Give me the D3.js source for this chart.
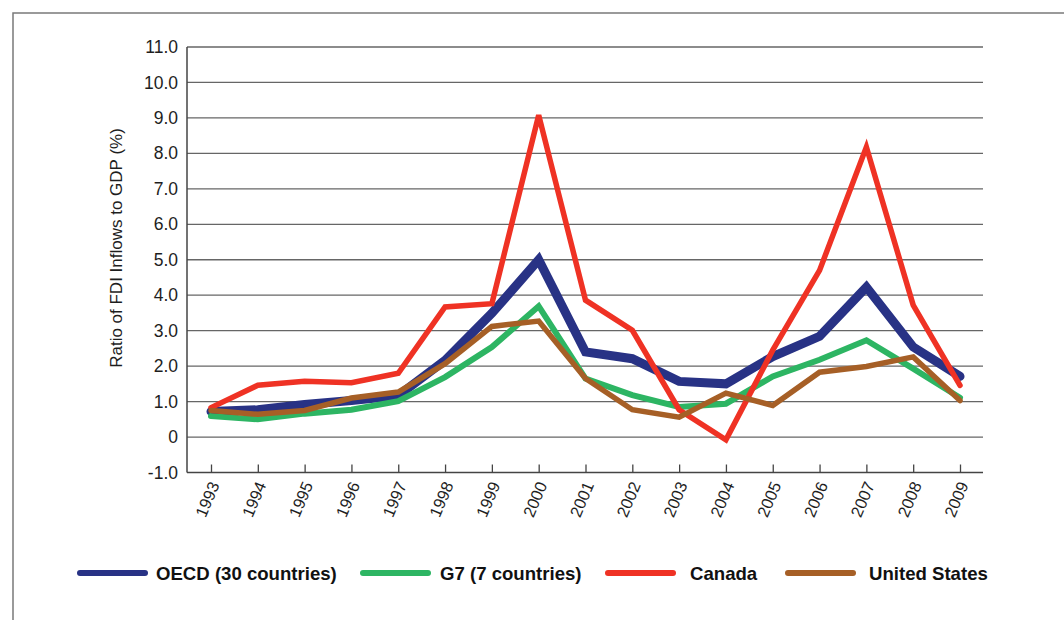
<!DOCTYPE html>
<html>
<head>
<meta charset="utf-8">
<script src="https://cdn.jsdelivr.net/npm/d3@7"></script>
<style>
  html, body { margin: 0; padding: 0; background: #fff; }
  svg { display: block; font-family: "Liberation Sans", Arial, Helvetica, sans-serif; }
</style>
</head>
<body>
<svg id="chart" width="1064" height="620"></svg>
<script>
const years = [1993,1994,1995,1996,1997,1998,1999,2000,2001,2002,2003,2004,2005,2006,2007,2008,2009];
const oecd   = [0.72,0.77,0.92,1.03,1.17,2.16,3.49,5.00,2.40,2.21,1.57,1.50,2.27,2.84,4.23,2.54,1.71];
const g7     = [0.59,0.50,0.66,0.77,1.01,1.69,2.54,3.69,1.65,1.18,0.85,0.94,1.71,2.18,2.73,1.93,1.11];
const canada = [0.83,1.46,1.57,1.53,1.80,3.67,3.76,9.08,3.86,3.01,0.77,-0.08,2.45,4.70,8.18,3.72,1.46];
const us     = [0.75,0.64,0.75,1.10,1.27,2.07,3.12,3.27,1.65,0.77,0.56,1.24,0.89,1.83,1.99,2.26,1.03];
const yTicks = [-1,0,1,2,3,4,5,6,7,8,9,10,11];
const yTickLabels = ["-1.0","0","1.0","2.0","3.0","4.0","5.0","6.0","7.0","8.0","9.0","10.0","11.0"];
const seriesNames = ["OECD (30 countries)","G7 (7 countries)","Canada","United States"];
const seriesColors = ["#283285","#2db563","#ef3224","#a65f26"];
const seriesWidths = [9,6,5.5,5.5];
const yTitle = "Ratio of FDI Inflows to GDP (%)";

const seriesData = [oecd, g7, canada, us];

const svg = d3.select("#chart");

// outer frame
svg.append("path")
  .attr("d", "M13,620 L13,13 L1064,13")
  .attr("fill","none").attr("stroke","#7a7a7a").attr("stroke-width",1.5);

const plotLeft = 187, plotRight = 983;
const x = d3.scaleLinear().domain([1993, 2009]).range([211, 960]);
const y = d3.scaleLinear().domain([-1, 11]).range([472.5, 47]);

// gridlines
svg.append("g").selectAll("line").data(yTicks.filter(d => d > -1)).join("line")
  .attr("x1", plotLeft).attr("x2", plotRight)
  .attr("y1", d => y(d)).attr("y2", d => y(d))
  .attr("stroke", "#666").attr("stroke-width", 1.3);

// y axis labels
const yAxis = d3.axisLeft(y).tickValues(yTicks).tickSize(0).tickPadding(9)
  .tickFormat((d,i) => yTickLabels[i]);
const gy = svg.append("g").attr("transform", `translate(${plotLeft},0)`).call(yAxis);
gy.select(".domain").remove();
gy.selectAll("text").attr("font-size", 17.5).attr("fill", "#1e1e1e").attr("font-family", "Liberation Sans, Arial, sans-serif");

// x axis
const xAxis = d3.axisBottom(x).tickValues(years).tickSize(-8).tickFormat(d3.format("d"));
const gx = svg.append("g").attr("transform", `translate(0,${y(-1)})`).call(xAxis);
gx.select(".domain").remove();
gx.selectAll(".tick line").attr("stroke", "#444").attr("stroke-width", 1.3);
gx.selectAll("text")
  .attr("font-size", 16.5).attr("fill", "#1e1e1e").attr("font-family", "Liberation Sans, Arial, sans-serif")
  .attr("text-anchor", "end")
  .attr("transform", "translate(3,10) rotate(-67)")
  .attr("dx", 0).attr("dy", "0.35em").attr("y", 0).attr("x", 0);

// axis lines
svg.append("line").attr("x1", plotLeft).attr("x2", plotLeft).attr("y1", y(11)).attr("y2", y(-1))
  .attr("stroke", "#444").attr("stroke-width", 1.5);
svg.append("line").attr("x1", plotLeft).attr("x2", plotRight).attr("y1", y(-1)).attr("y2", y(-1))
  .attr("stroke", "#444").attr("stroke-width", 1.5);

// y title
svg.append("text")
  .attr("transform", `translate(122,248) rotate(-90)`)
  .attr("text-anchor", "middle")
  .attr("font-size", 17).attr("fill", "#1e1e1e")
  .text(yTitle);

// lines
const line = d3.line().x((d,i) => x(years[i])).y(d => y(d)).curve(d3.curveLinear);
seriesData.forEach((s, k) => {
  svg.append("path").datum(s)
    .attr("d", line)
    .attr("fill", "none")
    .attr("stroke", seriesColors[k])
    .attr("stroke-width", seriesWidths[k])
    .attr("stroke-linejoin", "miter")
    .attr("stroke-miterlimit", 4)
    .attr("stroke-linecap", "round");
});

// legend
const legendX = [80, 363, 608, 788];
const textOffset = [76, 77, 82, 81];
const lg = svg.append("g");
seriesNames.forEach((name, k) => {
  lg.append("line")
    .attr("x1", legendX[k]).attr("x2", legendX[k] + 65)
    .attr("y1", 573).attr("y2", 573)
    .attr("stroke", seriesColors[k]).attr("stroke-width", 6).attr("stroke-linecap", "round");
  lg.append("text")
    .attr("x", legendX[k] + textOffset[k]).attr("y", 579.5)
    .attr("font-size", 18.6).attr("font-weight", "bold").attr("fill", "#111")
    .text(name);
});
</script>
</body>
</html>
